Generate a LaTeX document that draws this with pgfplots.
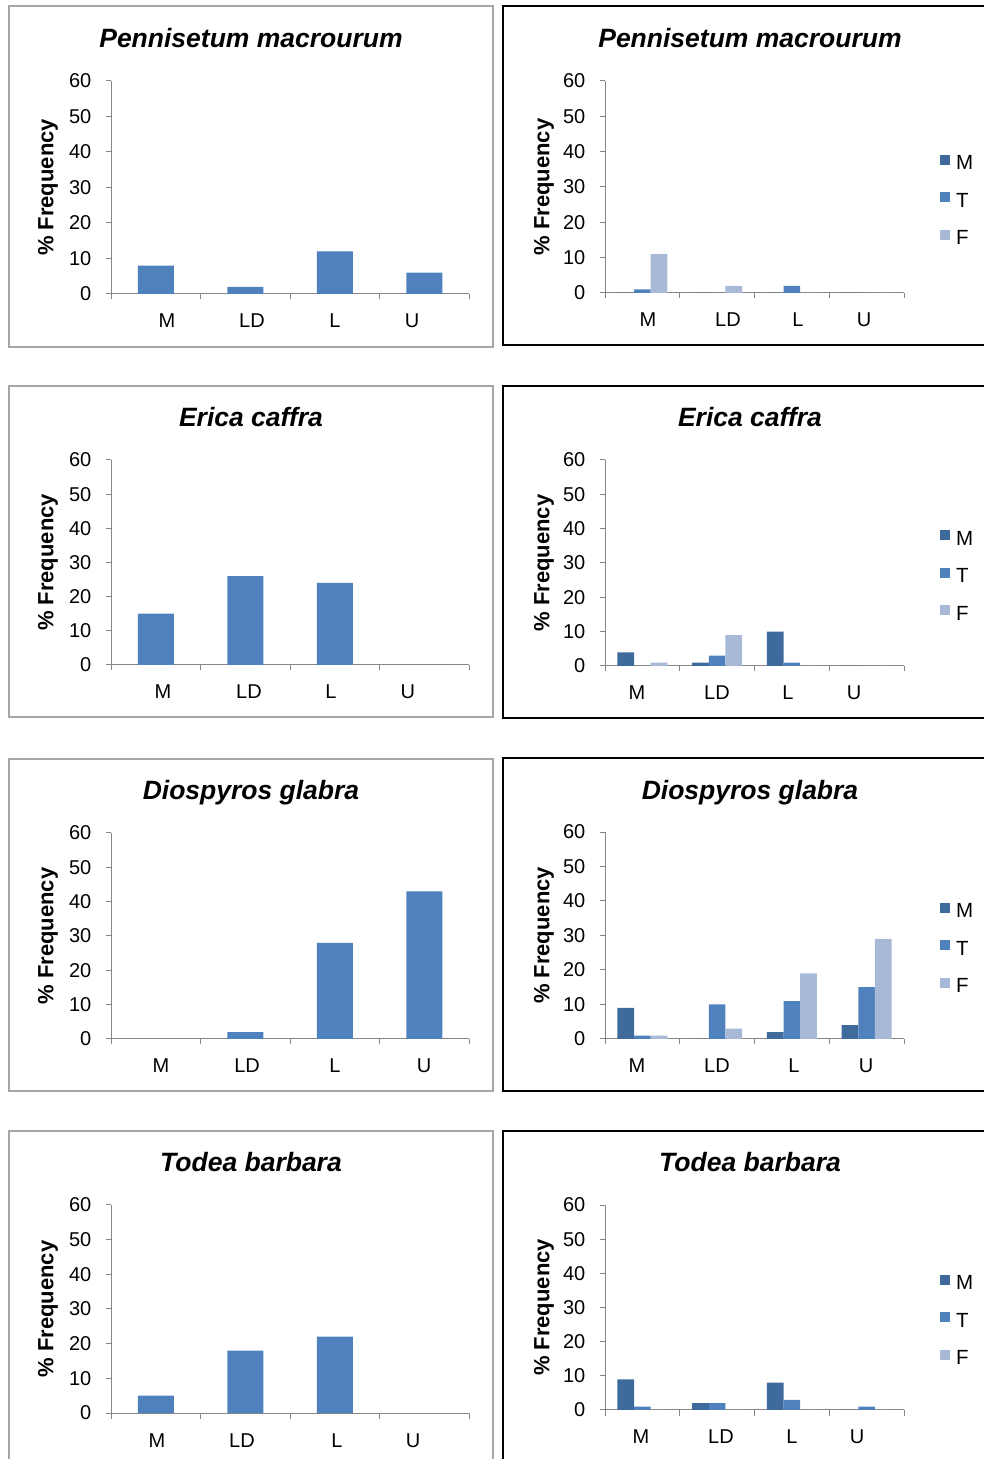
\documentclass[border=0pt]{standalone}
\usepackage{fontspec}
\setmainfont{Liberation Sans}
\usepackage{pgfplots}
\pgfplotsset{compat=1.18}
\definecolor{cM}{HTML}{3F6A9C}
\definecolor{cT}{HTML}{4F81BD}
\definecolor{cF}{HTML}{A8B9D8}
\definecolor{axisgray}{HTML}{868686}
\definecolor{framegray}{HTML}{A6A6A6}
\pgfplotsset{
  base/.style={
    scale only axis,
    xmin=-0.5, xmax=3.5, ymin=0, ymax=60,
    axis x line=bottom, axis y line=left,
    axis line style={draw=axisgray, line width=1pt, -},
    ytick={0,10,...,60},
    xtick={-0.5,0.5,1.5,2.5,3.5}, xticklabels={},
    extra x tick labels={M,LD,L,U},
    extra x tick style={major tick length=0pt, tick style={draw=none}},
    tick style={draw=axisgray, line width=1pt},
    tick align=outside,
    major tick length=5.5pt,
    /pgf/number format/assume math mode=true,
    ticklabel style={font=\fontsize{20}{23}\selectfont, text=black},
    yticklabel style={anchor=east, inner sep=0pt, xshift=-14pt},
    xticklabel style={anchor=base, inner sep=0pt, yshift=-34pt},
    ylabel={\% Frequency},
    ylabel style={font=\bfseries\fontsize{22}{25}\selectfont, at={(axis description cs:0,0.5)}, anchor=center},
    clip=false,
  },
  leftax/.style={base, width=358pt, ybar, bar width=36pt,
    ylabel style={yshift=63pt}},
  rightax/.style={base, width=299pt, ybar=0pt, bar width=16.6pt,
    ylabel style={yshift=61pt},
    legend style={draw=none, fill=none, at={(axis description cs:1.11,0.44)}, anchor=west,
      font=\fontsize{20.5}{23}\selectfont,
      nodes={inner sep=0pt, text height=14pt, text depth=0pt},
      row sep=22.5pt, column sep=6pt},
    legend cell align=left,
    legend image code/.code={\fill[##1] (0pt,-2pt) rectangle (10pt,8pt);},
  },
}
\tikzset{ttl/.style={font=\bfseries\itshape\fontsize{26.5}{30}\selectfont, anchor=base}}
\begin{document}
\begin{tikzpicture}
\useasboundingbox (0pt,0pt) rectangle (984pt,1459pt);
% frames
\draw[framegray, line width=1.3pt] (9pt,1453pt) rectangle (493pt,1112pt);
\draw[framegray, line width=1.3pt] (9pt,1073pt) rectangle (493pt,742pt);
\draw[framegray, line width=1.3pt] (9pt,700pt) rectangle (493pt,368pt);
\draw[framegray, line width=1.3pt] (9pt,328pt) rectangle (493pt,-20pt);
\draw[black, line width=1.3pt] (503pt,1453pt) rectangle (1000pt,1114pt);
\draw[black, line width=1.3pt] (503pt,1073pt) rectangle (1000pt,741pt);
\draw[black, line width=1.3pt] (503pt,701pt) rectangle (1000pt,368pt);
\draw[black, line width=1.3pt] (503pt,328pt) rectangle (1000pt,-20pt);
% titles
\node[ttl] at (251pt,1411pt) {Pennisetum macrourum};
\node[ttl] at (750pt,1411pt) {Pennisetum macrourum};
\node[ttl] at (251pt,1032pt) {Erica caffra};
\node[ttl] at (750pt,1032pt) {Erica caffra};
\node[ttl] at (251pt,659pt) {Diospyros glabra};
\node[ttl] at (750pt,659pt) {Diospyros glabra};
\node[ttl] at (251pt,287pt) {Todea barbara};
\node[ttl] at (750pt,287pt) {Todea barbara};

% ---- left column ----
\begin{axis}[leftax, at={(111pt,1165pt)}, anchor=south west, height=213pt,
  extra x ticks={0.126,1.075,2.003,2.863}]
\addplot[fill=cT, draw=none] coordinates {(0,8) (1,2) (2,12) (3,6)};
\end{axis}
\begin{axis}[leftax, at={(111pt,794pt)}, anchor=south west, height=205pt,
  extra x ticks={0.081,1.042,1.958,2.818}]
\addplot[fill=cT, draw=none] coordinates {(0,15) (1,26) (2,24) (3,0)};
\end{axis}
\begin{axis}[leftax, at={(111pt,420pt)}, anchor=south west, height=206pt,
  extra x ticks={0.059,1.020,2.003,2.997}]
\addplot[fill=cT, draw=none] coordinates {(0,0) (1,2) (2,28) (3,43)};
\end{axis}
\begin{axis}[leftax, at={(111pt,46pt)}, anchor=south west, height=208pt,
  extra x ticks={0.014,0.964,2.025,2.874}]
\addplot[fill=cT, draw=none] coordinates {(0,5) (1,18) (2,22) (3,0)};
\end{axis}

% ---- right column ----
\begin{axis}[rightax, at={(605pt,1166pt)}, anchor=south west, height=212pt,
  extra x ticks={0.075,1.145,2.082,2.965}]
\addplot[fill=cM, draw=none] coordinates {(0,0) (1,0) (2,0) (3,0)};
\addplot[fill=cT, draw=none] coordinates {(0,1) (1,0) (2,2) (3,0)};
\addplot[fill=cF, draw=none] coordinates {(0,11) (1,2) (2,0) (3,0)};
\legend{M,T,F}
\end{axis}
\begin{axis}[rightax, at={(605pt,793pt)}, anchor=south west, height=206pt,
  extra x ticks={-0.072,0.998,1.948,2.831}]
\addplot[fill=cM, draw=none] coordinates {(0,4) (1,1) (2,10) (3,0)};
\addplot[fill=cT, draw=none] coordinates {(0,0) (1,3) (2,1) (3,0)};
\addplot[fill=cF, draw=none] coordinates {(0,1) (1,9) (2,0) (3,0)};
\legend{M,T,F}
\end{axis}
\begin{axis}[rightax, at={(605pt,420pt)}, anchor=south west, height=207pt,
  extra x ticks={-0.072,0.998,2.028,2.992}]
\addplot[fill=cM, draw=none] coordinates {(0,9) (1,0) (2,2) (3,4)};
\addplot[fill=cT, draw=none] coordinates {(0,1) (1,10) (2,11) (3,15)};
\addplot[fill=cF, draw=none] coordinates {(0,1) (1,3) (2,19) (3,29)};
\legend{M,T,F}
\end{axis}
\begin{axis}[rightax, at={(605pt,49pt)}, anchor=south west, height=205pt,
  extra x ticks={-0.018,1.052,2.002,2.871}]
\addplot[fill=cM, draw=none] coordinates {(0,9) (1,2) (2,8) (3,0)};
\addplot[fill=cT, draw=none] coordinates {(0,1) (1,2) (2,3) (3,1)};
\addplot[fill=cF, draw=none] coordinates {(0,0) (1,0) (2,0) (3,0)};
\legend{M,T,F}
\end{axis}
\end{tikzpicture}
\end{document}
